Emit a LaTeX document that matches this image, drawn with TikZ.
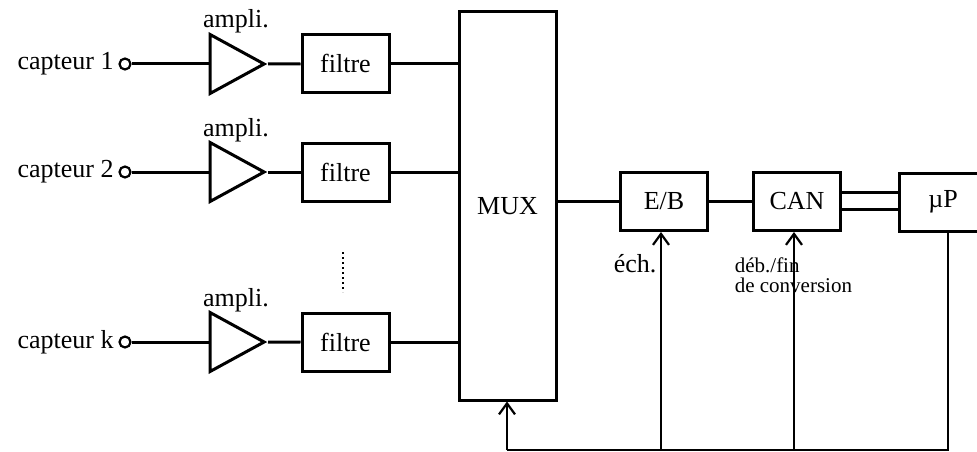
\documentclass[tikz,border=0pt]{standalone}
\usepackage{fontspec}
\setmainfont{Liberation Serif}
\usetikzlibrary{positioning,shapes.geometric,arrows.meta}
\tikzset{
  bloc/.style={draw,line width=3pt,minimum width=87pt,minimum height=58pt,inner sep=0pt},
  ampli/.style={draw,line width=3pt,isosceles triangle,isosceles triangle stretches,
    minimum width=59pt,minimum height=54pt,inner sep=0pt,anchor=apex},
  borne/.style={draw,circle,line width=2.2pt,minimum size=11pt,inner sep=0pt},
  fb/.style={line width=2.2pt,-{Straight Barb[length=11pt,width=16pt,line width=2.2pt]}},
}
\begin{document}
\begin{tikzpicture}[x=1pt,y=-1pt,line width=3pt,
  every node/.append style={font=\fontsize{26}{28}\selectfont}]
\useasboundingbox (0,0) rectangle (977,452);
% capteurs
\node[borne] (c1) at (125,64) {};
\node[borne] (c2) at (125,172) {};
\node[borne] (ck) at (125,342) {};
\node[left=0pt of c1] {capteur 1};
\node[left=0pt of c2] {capteur 2};
\node[left=0pt of ck] {capteur k};
% amplis
\node[ampli] (a1) at (268,64) {};
\node[ampli] (a2) at (268,172) {};
\node[ampli] (ak) at (268,342) {};
\node[anchor=base] at (236,28) {ampli.};
\node[anchor=base] at (236,136) {ampli.};
\node[anchor=base] at (236,306) {ampli.};
% filtres
\node[bloc] (f1) at (345.5,63.5) {filtre};
\node[bloc] (f2) at (345.5,172) {filtre};
\node[bloc] (fk) at (345.5,342.5) {filtre};
\draw[dash pattern=on 2pt off 3pt,line width=2pt] (343,252) -- (343,292);
%
\node[bloc,minimum width=97pt,minimum height=388pt] (mux) at (507.5,206) {MUX};
\node[bloc] (eb) at (664,201.5) {E/B};
\node[bloc] (can) at (797,201.5) {CAN};
\node[bloc] (up) at (943,202) {\textmu P};
%
\draw (c1) -- (a1); \draw (a1.apex) -- (f1);
\draw (c2) -- (a2); \draw (a2.apex) -- (f2);
\draw (ck) -- (ak); \draw (ak.apex) -- (fk);
\draw (f1) -- (f1 -| mux.west);
\draw (f2) -- (f2 -| mux.west);
\draw (fk) -- (fk -| mux.west);
\draw (mux.east |- eb) -- (eb);
\draw (eb) -- (can);
\draw ([yshift=9.5pt]can.east) -- ([yshift=9.5pt]can.east -| up.west);
\draw ([yshift=-7.5pt]can.east) -- ([yshift=-7.5pt]can.east -| up.west);
% commandes
\coordinate (bl) at (507,450);
\coordinate (br) at (948,450);
\draw[line width=2.2pt] (up.south -| br) -- (br) -- (bl);
\draw[fb] (bl) -- (mux.south -| bl);
\draw[fb] ([xshift=-3pt]eb.south |- bl) -- ([xshift=-3pt]eb.south);
\draw[fb] ([xshift=-3pt]can.south |- bl) -- ([xshift=-3pt]can.south);
\node[anchor=base west] at (609,272) {éch.};
\node[anchor=base west,font=\fontsize{21}{23}\selectfont] at (730,272) {déb./fin};
\node[anchor=base west,font=\fontsize{21}{23}\selectfont] at (730,292) {de conversion};
\end{tikzpicture}
\end{document}
